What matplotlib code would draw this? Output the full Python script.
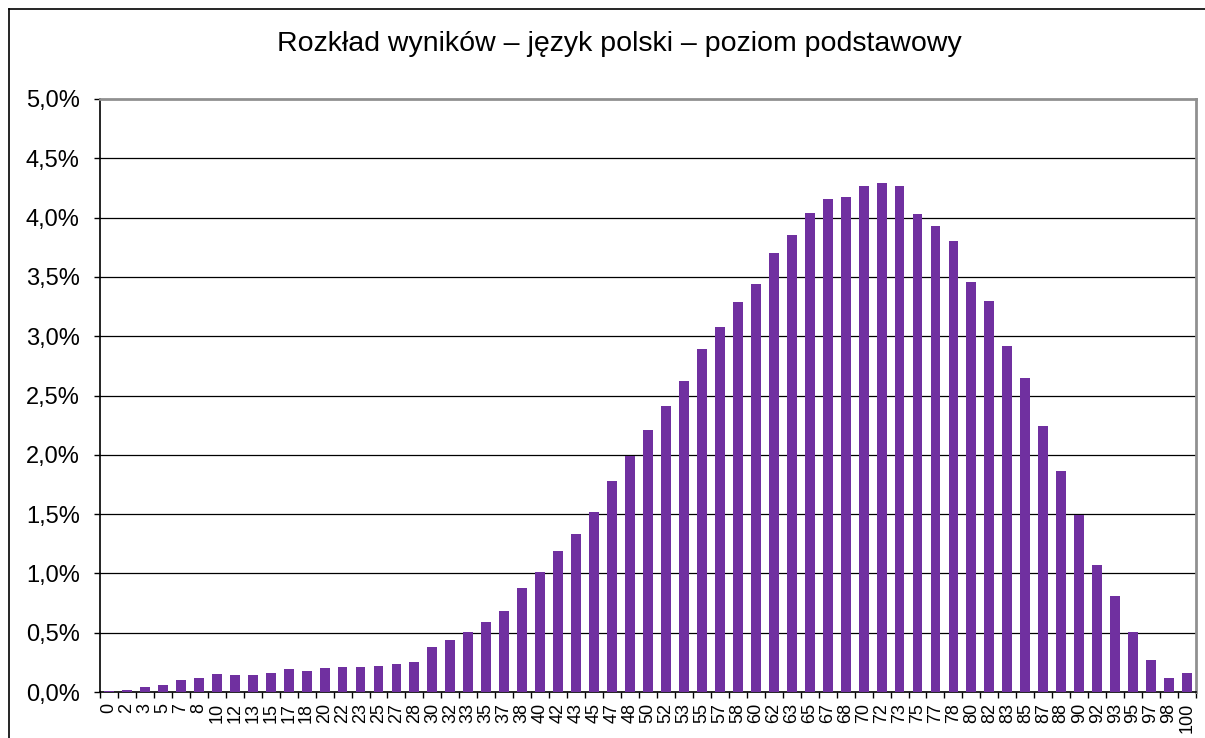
import matplotlib
matplotlib.use("Agg")
import matplotlib.pyplot as plt
from matplotlib.lines import Line2D
import numpy as np

plt.rcParams['font.family'] = ['Liberation Sans', 'DejaVu Sans']

categories = ["0", "2", "3", "5", "7", "8", "10", "12", "13", "15", "17", "18", "20", "22", "23",
              "25", "27", "28", "30", "32", "33", "35", "37", "38", "40", "42", "43", "45", "47",
              "48", "50", "52", "53", "55", "57", "58", "60", "62", "63", "65", "67", "68", "70",
              "72", "73", "75", "77", "78", "80", "82", "83", "85", "87", "88", "90", "92", "93",
              "95", "97", "98", "100"]
values = [0.01, 0.02, 0.04, 0.06, 0.10, 0.12, 0.15, 0.14, 0.145, 0.16, 0.19, 0.18, 0.20, 0.21, 0.215,
          0.22, 0.24, 0.25, 0.38, 0.44, 0.51, 0.59, 0.68, 0.88, 1.01, 1.19, 1.33, 1.52, 1.78,
          1.99, 2.21, 2.41, 2.62, 2.89, 3.08, 3.29, 3.44, 3.70, 3.85, 4.04, 4.16, 4.17, 4.27,
          4.29, 4.27, 4.03, 3.93, 3.80, 3.46, 3.30, 2.92, 2.65, 2.24, 1.86, 1.49, 1.07, 0.81,
          0.51, 0.27, 0.12, 0.16]
yticks = [0.0, 0.5, 1.0, 1.5, 2.0, 2.5, 3.0, 3.5, 4.0, 4.5, 5.0]
ytick_labels = ["0,0%", "0,5%", "1,0%", "1,5%", "2,0%", "2,5%", "3,0%", "3,5%", "4,0%", "4,5%", "5,0%"]
title = "Rozkład wyników – język polski – poziom podstawowy"

fig = plt.figure(figsize=(12.05, 7.38), dpi=100)
ax = fig.add_axes([100/1205, 1-692/738, (1196-100)/1205, (692-99)/738])

x = np.arange(len(categories))
ax.bar(x, values, width=0.55, color="#7030A0", zorder=3)

ax.set_xlim(-0.5, len(categories) - 0.5)
ax.set_ylim(0, 5.0)
ax.set_yticks(yticks)
ax.set_yticklabels(ytick_labels, fontsize=17)
for y in yticks[1:-1]:
    ax.axhline(y, color="#000000", linewidth=0.9, zorder=1)

ax.set_xticks(x)
ax.set_xticklabels(categories, rotation=90, fontsize=13)
ax.set_xticks(np.arange(-0.5, len(categories), 1.0), minor=True)
ax.tick_params(axis='x', which='major', length=0, pad=8)
ax.tick_params(axis='x', which='minor', length=4.5, width=1, direction='out')
ax.tick_params(axis='y', length=4.5, width=1, direction='out', pad=10)

for s in ['left', 'bottom']:
    ax.spines[s].set_color('black')
    ax.spines[s].set_linewidth(1.2)
for s in ['top', 'right']:
    ax.spines[s].set_color('#909090')
    ax.spines[s].set_linewidth(2)

fig.text(619/1205, 1-44/738, title, ha='center', va='center', fontsize=20.5)

# outer chart frame
fig.add_artist(Line2D([9/1205, 9/1205], [0, 1-9/738], color='black', linewidth=1.2, transform=fig.transFigure))
fig.add_artist(Line2D([9/1205, 1], [1-9/738, 1-9/738], color='black', linewidth=1.2, transform=fig.transFigure))

fig.savefig("out.png", dpi=100)
